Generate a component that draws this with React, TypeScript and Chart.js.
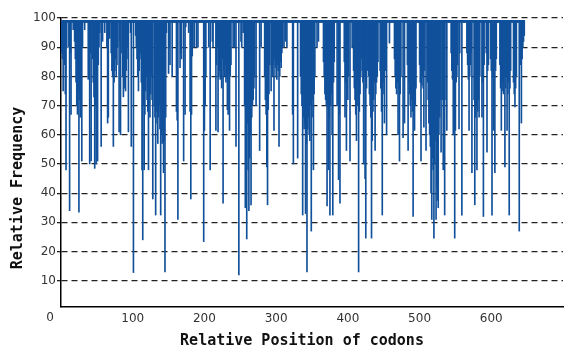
import React, { useEffect, useRef } from 'react';
import { Chart, registerables } from 'chart.js';

Chart.register(...registerables);

// "N" = codon at the top band (no visible dip)
const N = 98.5;
const BAR_TOP = 99.2;

const xTitle = 'Relative Position of codons';
const yTitle = 'Relative Frequency';
const xTickValues = [0, 100, 200, 300, 400, 500, 600];
const yTickValues = [10, 20, 30, 40, 50, 60, 70, 80, 90, 100];

// Relative frequency per codon position
const frequency: number[] = [
  92, 88, 86, 75, 90, 84, 74, 48, 90, N,
  N, 90, 34, 88, 67, N, N, 96, N, 92,
  86, 78, 70, 67, 75, 33.5, 72, 66, 80, 51,
  90, N, N, 96, N, N, N, N, 79, N,
  50, 88, 51, N, 86, 78, 73, 48.5, 70, 50,
  75, 51, 84, 90, 95, N, 56, N, 92, N,
  N, 95, N, N, 90, 64, 66, N, 93, N,
  88, 82, 80, 56, 78, 82, 86, 80, 84, 90,
  N, 61, 92, 60, N, 88, 80, 73, 76, 78,
  75, 82, 86, 90, 61, N, N, 95, 56, N,
  N, 12.8, N, N, 94, 90, 86, 80, 75, 82,
  86, 88, 78, 48, 24, 70, 48, 67, 75, 80,
  72, 68, 48, 70, 66, 74, 80, 72, 38, N,
  70, 66, 32.5, 68, 64, 57, 66, 70, 62, 32.5,
  60, 57, 62, 47, 58, 13, 66, 95, N, N,
  81, 90, 84, N, N, 80, N, N, N, N,
  N, 68, 65, 31, N, N, 83, 88, 86, N,
  N, 51, N, 67, 97, N, N, N, 95, N,
  68, 38, 67, 87, 90, N, 90, N, N, 90,
  N, 90, N, N, N, N, N, N, N, 23.4,
  61.5, 70, 80, N, N, N, 90, N, 48, N,
  N, 92, 90, N, N, N, 61.5, 84, 90, 61,
  80, 82, 79, 84, 76, 86, 36.6, 82, 80, 84,
  78, 80, 68.6, 67, 82, 61.5, 80, 84, N, N,
  90, N, 90, N, 56, N, N, N, 12, N,
  N, 92, 90, N, 95, N, 70, 35, 66, 24.3,
  64, 48, 34, 52, 60, 36, 66, 70, 72, 76,
  80, N, 70, N, N, N, N, 54.6, N, 90,
  N, N, N, N, 80, 72, 67, 49, 36, 68.6,
  74, 84, N, 75, 83, 80, 84, 61.5, 86, 83,
  80, 79, 84, 82, 56, 80, 85, 83, 88, 90,
  N, 90, N, 92, N, 90, N, N, N, N,
  N, N, N, 67, 50, N, N, N, N, N,
  52, N, N, N, 80, 74, 70, 32.5, 66, 62,
  64, 33, 57, 13, 62, 66, 60, 58, 70, 27,
  66, 72, 48, 74, 80, N, N, 90, N, 92,
  N, N, N, N, N, N, 85, 80, 74, 72,
  70, 35.6, 69.5, 48, 66, 32.5, 70, 74, 60, 32.5,
  78, 85, N, N, N, 70, N, 44.6, 67, 36.6,
  N, N, N, N, N, 85, 66, 78, 54.6, 75,
  72, 80, N, 51, N, N, 90, N, 82, 76,
  72, 67, 58, 78, 70, 13, 68, 74, 80, 86,
  82, 78, 50, 80, 45, 24.6, 76, 82, N, 80,
  74, 70, 66, 24.6, 58, 68, 72, 78, 54.6, 74,
  78, 80, 85, N, N, 82, 76, 68, 32.5, 74,
  78, 64, 82, 88, 60, N, N, N, 91.4, N,
  N, N, N, N, N, 86, 80, 76, 74, 78,
  60, 76, 51, 74, 80, N, N, 59, N, 64,
  N, N, N, 84, 54.6, 78, 74, 70, 66, 72,
  68, 32, 66, 61.5, 70, 76, N, N, N, N,
  84, 78, 51, 77, 80, 76, 62.6, 82, N, 54.6,
  N, 78, 72, 64, 60, 56, 40, 31, 52, 48,
  24.6, 50, 58, 31, 42, 37.5, 35, 60, 66, 72,
  54, N, 72, 48, N, 32.5, N, 72, 61.5, N,
  N, N, N, N, 88, 82, 79, 60, 76, 24.6,
  61.5, 78, 80, 84, N, 62, 88, N, N, 32.5,
  N, N, N, N, N, N, 88, 84, 79, 61.5,
  80, 84, 88, 47, N, N, 72, 36, 66, 70,
  48, 68, 72, 66, 80, N, N, 66, 78, 32,
  84, N, N, 88, 54, 82, 84, N, N, 86,
  82, 32.5, 80, 61.5, 84, 47, 82, 86, N, N,
  N, N, 84, 76, 61.5, 75, 78, 74, 80, 49,
  76, 80, 61.5, 74, 78, 32.5, 76, 82, N, N,
  N, 78, 74, 69.5, 76, 80, N, N, N, 27,
  88, 84, 64, 86, 90, 92, 94,
];

const TICK_FONT = { family: '"DejaVu Sans", sans-serif', size: 12 };

const textPlugin = {
  id: 'extraText',
  afterDraw(chart: any) {
    const { ctx, scales } = chart;
    ctx.save();
    // first x tick label, drawn left of the axis origin as in the original
    ctx.font = '12px "DejaVu Sans", sans-serif';
    ctx.fillStyle = '#333';
    ctx.textAlign = 'center';
    ctx.textBaseline = 'top';
    ctx.fillText(String(xTickValues[0]), scales.x.getPixelForValue(0) - 11, scales.x.top + 5);
    // axis titles
    ctx.font = 'bold 15px "DejaVu Sans Mono", monospace';
    ctx.fillStyle = '#111';
    ctx.textBaseline = 'middle';
    ctx.fillText(xTitle, 302, 341);
    ctx.translate(18, 188);
    ctx.rotate(-Math.PI / 2);
    ctx.fillText(yTitle, 0, 0);
    ctx.restore();
  },
};

export default function App() {
  const ref = useRef<HTMLCanvasElement>(null);

  useEffect(() => {
    if (!ref.current) return;
    const points = frequency.map((v, i) => ({ x: i, y: [v, BAR_TOP] }));
    const chart = new Chart(ref.current, {
      type: 'bar',
      data: {
        datasets: [
          {
            data: points as any,
            backgroundColor: '#11519c',
            borderWidth: 0,
            barThickness: 1,
            grouped: false,
          },
        ],
      },
      plugins: [textPlugin],
      options: {
        animation: false,
        responsive: false,
        devicePixelRatio: 1,
        events: [],
        layout: { padding: { top: 18, left: 0, right: 0, bottom: 0 } },
        plugins: { legend: { display: false }, tooltip: { enabled: false } },
        scales: {
          x: {
            type: 'linear',
            min: 0,
            max: 700,
            offset: false,
            grid: { display: false, drawTicks: false },
            border: { display: true, color: '#000', width: 1.5 },
            afterBuildTicks: (s: any) => {
              s.ticks = [...xTickValues, 700].map((v) => ({ value: v }));
            },
            ticks: {
              autoSkip: false,
              maxRotation: 0,
              padding: 5,
              color: '#333',
              font: TICK_FONT,
              callback: (v: any) => (v === 0 || v === 700 ? '' : String(v)),
            },
            afterFit: (s: any) => {
              s.height = 45;
            },
          },
          y: {
            type: 'linear',
            min: 1,
            max: 100,
            z: 1,
            afterBuildTicks: (s: any) => {
              s.ticks = yTickValues.map((v) => ({ value: v }));
            },
            grid: {
              color: '#222',
              lineWidth: 1.3,
              drawTicks: true,
              tickLength: 4,
              tickColor: '#222',
            },
            border: { display: true, color: '#000', width: 1.5, dash: [6, 4] },
            ticks: {
              padding: 1,
              color: '#333',
              font: TICK_FONT,
            },
            afterFit: (s: any) => {
              s.width = 61;
            },
          },
        },
      },
    });
    return () => chart.destroy();
  }, []);

  return (
    <div style={{ position: 'absolute', left: 0, top: 0, width: 568, height: 352, background: '#fff' }}>
      <canvas ref={ref} width={568} height={352} style={{ display: 'block' }} />
    </div>
  );
}
